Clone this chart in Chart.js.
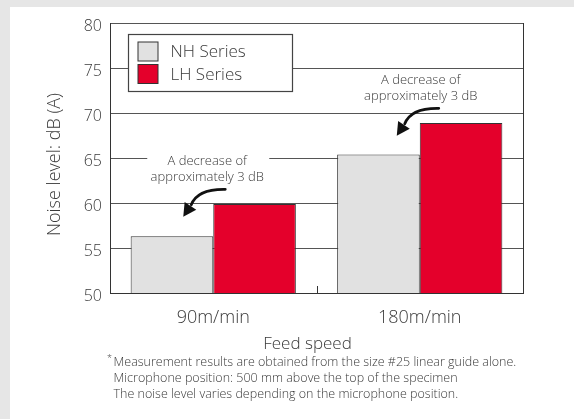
<!DOCTYPE html>
<html>
<head>
<meta charset="utf-8">
<script src="https://cdn.jsdelivr.net/npm/chart.js@4.4.1/dist/chart.umd.min.js"></script>
<style>
  html, body { margin: 0; padding: 0; background: #e6e6e6; }
  #wrap { position: absolute; left: 0; top: 0; width: 574px; height: 419px; }
  canvas { display: block; }
</style>
</head>
<body>
<div id="wrap"><canvas id="c" width="574" height="419"></canvas></div>
<script>
// ---- data ----
const categories = ['90m/min', '180m/min'];
const seriesNames = ['NH Series', 'LH Series'];
const nhValues = [56.3, 65.4];
const lhValues = [59.9, 68.9];
const yTickValues = [50, 55, 60, 65, 70, 75, 80];
const annotationText = ['A decrease of', 'approximately 3 dB'];
const annotationValues = [64.8, 73.8];   // y value of first text line per category
const xTitle = 'Feed speed';
const yTitle = 'Noise level: dB (A)';
const footnoteMark = '*';
const footnotes = [
  'Measurement results are obtained from the size #25 linear guide alone.',
  'Microphone position: 500 mm above the top of the specimen',
  'The noise level varies depending on the microphone position.'
];

// ---- style ----
const FONT = "'Open Sans', 'Noto Sans', sans-serif";
const TEXT = '#3a3a3a';
const GRID = '#555555';
const NH_FILL = '#e1e1e1';
const LH_FILL = '#e4002b';
const EDGE = '#333333';

const backgroundPlugin = {
  id: 'panelBg',
  beforeDraw(chart) {
    const ctx = chart.ctx;
    ctx.save();
    ctx.fillStyle = '#e6e6e6';
    ctx.fillRect(0, 0, chart.width, chart.height);
    ctx.fillStyle = '#ffffff';
    ctx.fillRect(10, 7, chart.width - 10, chart.height - 7);
    ctx.restore();
  }
};

function drawArrow(ctx, sx, sy, cx1, cy1, ex, ey, tx, ty) {
  ctx.save();
  ctx.strokeStyle = '#111';
  ctx.fillStyle = '#111';
  ctx.lineWidth = 2.8;
  ctx.lineCap = 'round';
  ctx.beginPath();
  ctx.moveTo(sx, sy);
  ctx.quadraticCurveTo(cx1, cy1, ex, ey);
  ctx.stroke();
  const ang = Math.atan2(ty - ey, tx - ex);
  const len = 13, half = 7;
  const bx = tx - Math.cos(ang) * len, by = ty - Math.sin(ang) * len;
  ctx.beginPath();
  ctx.moveTo(tx, ty);
  ctx.lineTo(bx + Math.cos(ang + Math.PI / 2) * half, by + Math.sin(ang + Math.PI / 2) * half);
  ctx.lineTo(bx - Math.cos(ang + Math.PI / 2) * half, by - Math.sin(ang + Math.PI / 2) * half);
  ctx.closePath();
  ctx.fill();
  ctx.restore();
}

const overlayPlugin = {
  id: 'overlay',
  afterDraw(chart) {
    const { ctx, chartArea: a, scales: { x, y } } = chart;
    ctx.save();
    // right border of plot
    ctx.strokeStyle = EDGE;
    ctx.lineWidth = 1;
    ctx.beginPath();
    ctx.moveTo(Math.round(a.right) + 0.5, a.top);
    ctx.lineTo(Math.round(a.right) + 0.5, a.bottom);
    ctx.stroke();
    // category separator tick
    const xm = Math.round((x.getPixelForValue(0) + x.getPixelForValue(1)) / 2) + 0.5;
    ctx.beginPath();
    ctx.moveTo(xm, a.bottom);
    ctx.lineTo(xm, a.bottom - 7);
    ctx.stroke();

    // legend box
    const lx = a.left + 18.5, ly = a.top + 11.5, lw = 164, lh = 57;
    ctx.fillStyle = '#fff';
    ctx.fillRect(lx, ly, lw, lh);
    ctx.strokeStyle = '#444';
    ctx.lineWidth = 1.2;
    ctx.strokeRect(lx, ly, lw, lh);
    chart.data.datasets.forEach((ds, i) => {
      const sy = ly + 7.5 + i * 22.5;
      ctx.fillStyle = ds.backgroundColor;
      ctx.fillRect(lx + 9.5, sy, 20, 19);
      ctx.strokeStyle = EDGE;
      ctx.lineWidth = 1;
      ctx.strokeRect(lx + 9.5, sy, 20, 19);
      ctx.fillStyle = TEXT;
      ctx.font = `300 17px ${FONT}`;
      ctx.textAlign = 'left';
      ctx.textBaseline = 'middle';
      ctx.fillText(ds.label, lx + 42, sy + 10.5);
    });

    // annotations
    const dxs = [-6, 1];
    annotationValues.forEach((v, i) => {
      const cx = x.getPixelForValue(i) + dxs[i];
      const cy = y.getPixelForValue(v);
      ctx.fillStyle = '#fff';
      ctx.fillRect(cx - 60, cy - 9, 122, 32);
      ctx.fillStyle = TEXT;
      ctx.font = `300 13px ${FONT}`;
      ctx.textAlign = 'center';
      ctx.textBaseline = 'middle';
      annotationText.forEach((t, k) => ctx.fillText(t, cx, cy + 1 + k * 16));
      drawArrow(ctx, cx + 18, cy + 29.5, cx - 10, cy + 29, cx - 16, cy + 45, cx - 24, cy + 57);
    });

    // axis titles
    ctx.fillStyle = TEXT;
    ctx.textAlign = 'center';
    ctx.textBaseline = 'alphabetic';
    ctx.font = `300 17px ${FONT}`;
    ctx.fillText(xTitle, (a.left + a.right) / 2 - 9, a.bottom + 55.5);
    ctx.save();
    ctx.translate(a.left - 50, (a.top + a.bottom) / 2 + 6.5);
    ctx.rotate(-Math.PI / 2);
    ctx.font = `300 18px ${FONT}`;
    ctx.fillText(yTitle, 0, 0);
    ctx.restore();

    // footnotes
    ctx.textAlign = 'left';
    ctx.font = `300 9px ${FONT}`;
    ctx.fillText(footnoteMark, a.left - 3, a.bottom + 68);
    ctx.font = `300 12.5px ${FONT}`;
    footnotes.forEach((t, k) => ctx.fillText(t, a.left + 3.5, a.bottom + 72.5 + k * 16));
    ctx.restore();
  }
};

new Chart(document.getElementById('c'), {
  type: 'bar',
  data: {
    labels: categories,
    datasets: [
      { label: seriesNames[0], data: nhValues, backgroundColor: NH_FILL, borderColor: EDGE, borderWidth: 1 },
      { label: seriesNames[1], data: lhValues, backgroundColor: LH_FILL, borderColor: EDGE, borderWidth: 1 }
    ]
  },
  options: {
    responsive: false,
    animation: false,
    devicePixelRatio: 1,
    categoryPercentage: 0.8,
    barPercentage: 1.0,
    layout: { padding: { left: 10, right: 51, top: 23, bottom: 66 } },
    plugins: { legend: { display: false }, tooltip: { enabled: false } },
    scales: {
      x: {
        grid: { display: true, drawOnChartArea: false, drawTicks: false },
        border: { display: true, color: EDGE, width: 1 },
        ticks: { color: TEXT, font: { family: FONT, size: 18, weight: '300' }, padding: 14 },
        title: { display: false, text: xTitle },
        afterFit: s => { s.height = 60; }
      },
      y: {
        min: 50, max: 80,
        afterBuildTicks: s => { s.ticks = yTickValues.map(v => ({ value: v })); },
        grid: { color: GRID, lineWidth: 1, drawTicks: false },
        border: { display: true, color: EDGE, width: 1 },
        ticks: { color: TEXT, font: { family: FONT, size: 16, weight: '300' }, padding: 8, labelOffset: 3 },
        title: { display: false, text: yTitle },
        afterFit: s => { s.width = 100; }
      }
    }
  },
  plugins: [backgroundPlugin, overlayPlugin]
});
</script>
</body>
</html>
